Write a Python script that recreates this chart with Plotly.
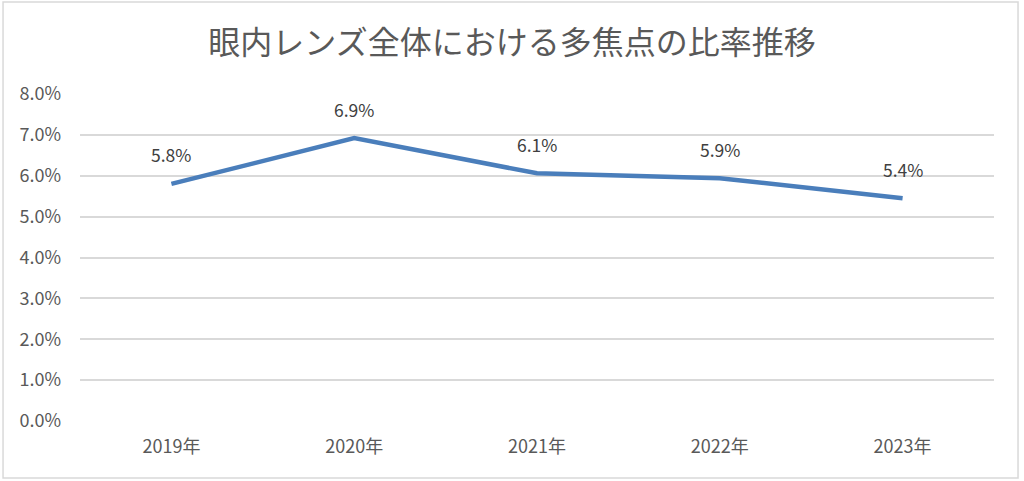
import plotly.graph_objects as go

years = ["2019年", "2020年", "2021年", "2022年", "2023年"]
ratios = [0.058, 0.0692, 0.0606, 0.0594, 0.0545]
label_text = ["5.8%", "6.9%", "6.1%", "5.9%", "5.4%"]
title_text = "眼内レンズ全体における多焦点の比率推移"

FONT = "Noto Sans CJK JP, Noto Sans, sans-serif"
GREY = "#595959"

fig = go.Figure()
fig.add_trace(go.Scatter(
    x=years, y=ratios, mode="lines",
    line=dict(color="#4a7ebb", width=4.5),
    hoverinfo="skip", showlegend=False,
))

for x, y, t in zip(years, ratios, label_text):
    fig.add_annotation(x=x, y=y, text=t, showarrow=False, yshift=29,
                       font=dict(family=FONT, size=17.5, color="#404040"))

# outer chart border
fig.add_shape(type="rect", xref="paper", yref="paper",
              x0=-0.0842, x1=1.0263, y0=-0.174, y1=1.281,
              line=dict(color="#d9d9d9", width=1.5), layer="below")

fig.update_layout(
    width=1024, height=481,
    margin=dict(l=80, r=30, t=94, b=60),
    paper_bgcolor="white", plot_bgcolor="white",
    title=dict(text=title_text, x=0.5, xanchor="center", y=0.912, yanchor="middle",
               font=dict(family=FONT, size=32, color=GREY)),
    xaxis=dict(range=[-0.5, 4.5], showgrid=False, zeroline=False, showline=False, ticks="",
               tickfont=dict(family=FONT, size=18, color=GREY),
               ticklabelstandoff=13),
    yaxis=dict(range=[0, 0.08], dtick=0.01, tickformat=".1%",
               showgrid=True, gridcolor="#d9d9d9", gridwidth=1.5,
               zeroline=False, showline=False, ticks="",
               tickfont=dict(family=FONT, size=18, color=GREY),
               ticklabelstandoff=18),
)

fig.write_html("out.html")
